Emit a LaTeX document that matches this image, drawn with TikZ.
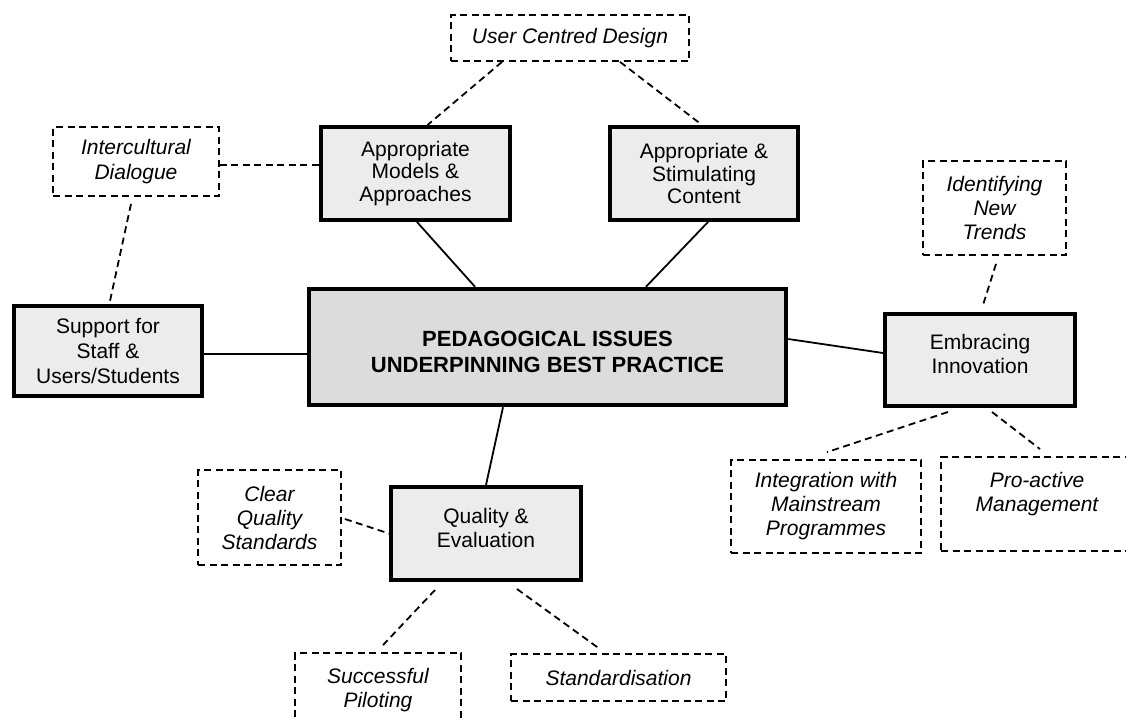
\documentclass[tikz,border=0pt]{standalone}
\usepackage{fontspec}
\setmainfont{Liberation Sans}
\usetikzlibrary{calc}
\definecolor{boxfill}{RGB}{236,236,236}
\definecolor{hubfill}{RGB}{220,220,220}
\tikzset{
  base/.style={rectangle, align=center, inner sep=0pt, font=\fontsize{21}{24}\selectfont},
  mainbox/.style={base, draw, line width=4pt, fill=boxfill},
  hubbox/.style={base, draw, line width=4.5pt, fill=hubfill, font=\fontsize{22}{27}\selectfont\bfseries},
  idea/.style={base, draw, line width=1.8pt, dash pattern=on 7pt off 4.5pt, fill=white, font=\fontsize{21}{24}\selectfont\itshape},
  solidlink/.style={line width=1.8pt},
  dashlink/.style={line width=1.8pt, dash pattern=on 7pt off 4.5pt},
}
\begin{document}
\begin{tikzpicture}[x=1pt,y=-1pt]
\clip (0,0) rectangle (1126,720);
\fill[white] (0,0) rectangle (1126,720);

% main boxes
\node[hubbox, minimum width=477pt, minimum height=116pt] (hub) at (547.5,347)
  {\raisebox{-7pt}[\height][\depth]{\begin{tabular}{@{}c@{}}PEDAGOGICAL ISSUES\\[-1pt]UNDERPINNING BEST PRACTICE\end{tabular}}};
\node[mainbox, minimum width=189pt, minimum height=93pt, font=\fontsize{21}{22.5}\selectfont] (models) at (415.5,173.5) {Appropriate\\Models \&\\Approaches};
\node[mainbox, minimum width=188pt, minimum height=93pt, font=\fontsize{21}{22.5}\selectfont] (content) at (704,173.5) {Appropriate \&\\Stimulating\\Content};
\node[mainbox, minimum width=188pt, minimum height=90pt, font=\fontsize{21}{25}\selectfont] (support) at (108,351) {Support for\\Staff \&\\Users/Students};
\node[mainbox, minimum width=190pt, minimum height=92pt] (embr) at (980,360)
  {\raisebox{3pt}[\height][\depth]{\begin{tabular}{@{}c@{}}Embracing\\Innovation\end{tabular}}};
\node[mainbox, minimum width=190pt, minimum height=93pt] (quality) at (486,533.5)
  {\raisebox{3pt}[\height][\depth]{\begin{tabular}{@{}c@{}}Quality \&\\Evaluation\end{tabular}}};

% dashed idea boxes
\node[idea, minimum width=238pt, minimum height=46pt] (ucd) at (570,38) {User Centred Design};
\node[idea, minimum width=166pt, minimum height=69pt, font=\fontsize{21}{25}\selectfont\itshape] (inter) at (136,161.5) {Intercultural\\Dialogue};
\node[idea, minimum width=143pt, minimum height=94pt] (ident) at (994.5,208) {Identifying\\New\\Trends};
\node[idea, minimum width=190pt, minimum height=93pt] (integ) at (826,506.5) {Integration with\\Mainstream\\Programmes};
\node[idea, minimum width=192pt, minimum height=94pt] (proact) at (1037,504) {Pro-active\\Management\\\mbox{}};
\node[idea, minimum width=143pt, minimum height=95pt] (clear) at (269.5,517.5) {Clear\\Quality\\Standards};
\node[idea, minimum width=166pt, minimum height=94pt] (pilot) at (378,700) {Successful\\Piloting\\\mbox{}};
\node[idea, minimum width=215pt, minimum height=47pt] (std) at (618.5,677.5) {Standardisation};

% solid connectors
\draw[solidlink] ($(models.south)+(1.5,0)$) -- ($(hub.north)+(-72.5,0)$);
\draw[solidlink] ($(content.south)+(4,0)$) -- ($(hub.north)+(98.5,0)$);
\draw[solidlink] ($(support.east)+(0,3)$) -- ($(hub.west)+(0,7)$);
\draw[solidlink] ($(hub.east)+(0,-8)$) -- ($(embr.west)+(0,-7)$);
\draw[solidlink] ($(hub.south)+(-44.5,0)$) -- (quality.north);

% dashed connectors
\draw[dashlink] ($(ucd.south)+(-68,0)$) -- ($(models.north)+(12,0)$);
\draw[dashlink] ($(ucd.south)+(50,0)$) -- ($(content.north)+(-2,0)$);
\draw[dashlink] ($(inter.east)+(0,3.5)$) -- ($(models.west)+(0,-8.5)$);
\draw[dashlink] ($(inter.south)+(-5,7)$) -- ($(support.north)+(2,-3)$);
\draw[dashlink] ($(ident.south)+(1.5,8)$) -- ($(embr.north)+(3,-7)$);
\draw[dashlink] ($(embr.south)+(-32,4)$) -- ($(integ.north)+(1,-7)$);
\draw[dashlink] ($(embr.south)+(12,4)$) -- ($(proact.north)+(3,-7)$);
\draw[dashlink] ($(clear.east)+(3,1.5)$) -- (quality.west);
\draw[dashlink] ($(quality.south)+(-51,8)$) -- ($(pilot.north)+(5,-7)$);
\draw[dashlink] ($(quality.south)+(31,7)$) -- ($(std.north)+(-18.5,-4)$);
\end{tikzpicture}
\end{document}
